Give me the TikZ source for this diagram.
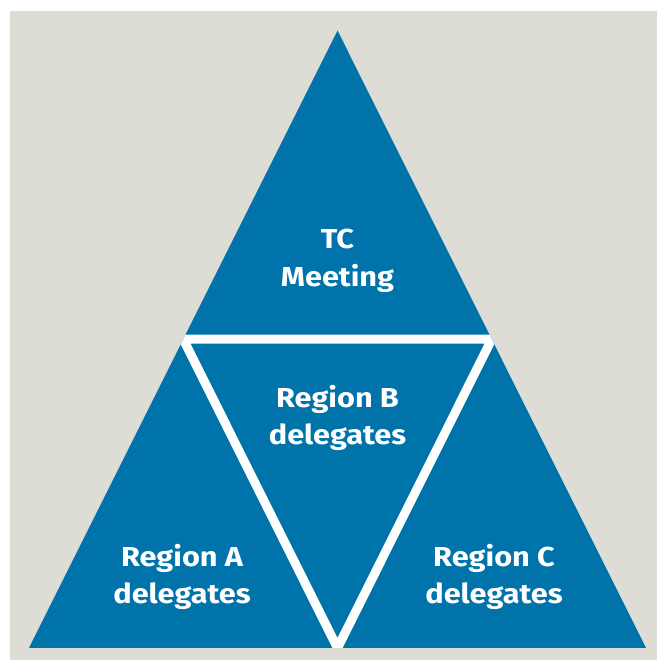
\documentclass[tikz,border=0pt]{standalone}
\usepackage{fontspec}
\setmainfont{Fira Sans}[FakeStretch=1.12]
\usetikzlibrary{calc}
\definecolor{tcblue}{RGB}{0,115,170}
\definecolor{tcgray}{RGB}{222,221,213}
\tikzset{
  label_text/.style={text=white,font=\bfseries\fontsize{27.5}{38}\selectfont,align=center,inner sep=0pt},
}
\begin{document}
\begin{tikzpicture}[line join=miter,]
%%
\useasboundingbox (0bp,0bp) rectangle (657bp,660bp);
\fill [tcgray] (10bp,0bp) rectangle (657bp,649bp);
%
\coordinate (top_0) at (337.5bp,629.5bp);
\coordinate (left_0) at (29bp,12bp);
\coordinate (right_0) at (646bp,12bp);
\coordinate (mid_l) at ($(top_0)!0.5!(left_0)$);
\coordinate (mid_r) at ($(top_0)!0.5!(right_0)$);
\coordinate (mid_b) at ($(left_0)!0.5!(right_0)$);
\fill [tcblue] (top_0) -- (left_0) -- (right_0) -- cycle;
\begin{scope}
  \clip (top_0) -- (left_0) -- (right_0) -- cycle;
  \draw [white,line width=9bp] (mid_l) -- (mid_r) -- (mid_b) -- cycle;
\end{scope}
%
\node (node_0) at (337.5bp,399bp) [label_text] {TC\\Meeting};
  \node (node_1) at (337.5bp,242bp) [label_text] {Region B\\delegates};
  \node (node_2) at (182bp,83bp) [label_text] {Region A\\delegates};
  \node (node_3) at (494bp,83bp) [label_text] {Region C\\delegates};
%
\end{tikzpicture}
\end{document}
